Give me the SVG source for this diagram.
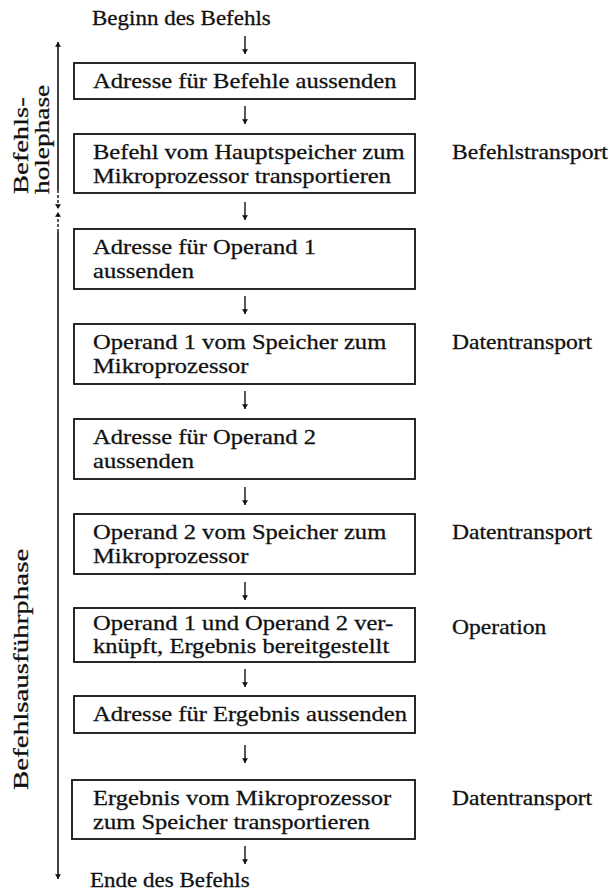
<svg xmlns="http://www.w3.org/2000/svg" width="610" height="894" viewBox="0 0 610 894">
  <style>
    .box { fill: #fff; stroke: #111; stroke-width: 1.8; }
    .t { font-family: "Liberation Serif", "Times New Roman", serif; font-size: 20px; fill: #111; stroke: #111; stroke-width: 0.28; }
    .bt { font-size: 21px; }
    .lbl { font-size: 21px; }
    .flow { stroke: #111; stroke-width: 1.4; fill: none; }
    .phase { stroke: #111; stroke-width: 1.6; fill: none; }
    .dash { stroke: #111; stroke-width: 1.4; fill: none; stroke-dasharray: 3 2; }
  </style>
  <defs>
    <marker id="ah" viewBox="0 0 8 10" refX="8" refY="5" markerWidth="5" markerHeight="6" markerUnits="userSpaceOnUse" orient="auto">
      <path d="M0,0 L8,5 L0,10 Z" fill="#111"/>
    </marker>
  </defs>
  <rect width="610" height="894" fill="#fff"/>

  <!-- start / end labels -->
  <g id="start" transform="translate(92,0) scale(1.15,1) translate(-92,0)">
    <text class="t" x="92" y="25">Beginn des Befehls</text>
  </g>
  <g id="end" transform="translate(90,0) scale(1.15,1) translate(-90,0)">
    <text class="t" x="90" y="887">Ende des Befehls</text>
  </g>

  <!-- process steps -->
  <g id="step1">
    <rect class="box" x="74" y="63" width="341" height="36"/>
    <g transform="translate(93,0) scale(1.17,1) translate(-93,0)">
      <text class="t bt" x="93" y="88">Adresse für Befehle aussenden</text>
    </g>
  </g>
  <g id="step2">
    <rect class="box" x="74" y="134" width="341" height="59"/>
    <g transform="translate(93,0) scale(1.17,1) translate(-93,0)">
      <text class="t bt" x="93" y="159">Befehl vom Hauptspeicher zum</text>
      <text class="t bt" x="93" y="183">Mikroprozessor transportieren</text>
    </g>
  </g>
  <g id="step3">
    <rect class="box" x="74" y="229" width="341" height="60"/>
    <g transform="translate(93,0) scale(1.17,1) translate(-93,0)">
      <text class="t bt" x="93" y="254">Adresse für Operand 1</text>
      <text class="t bt" x="93" y="278">aussenden</text>
    </g>
  </g>
  <g id="step4">
    <rect class="box" x="74" y="324" width="341" height="60"/>
    <g transform="translate(93,0) scale(1.17,1) translate(-93,0)">
      <text class="t bt" x="93" y="349">Operand 1 vom Speicher zum</text>
      <text class="t bt" x="93" y="373">Mikroprozessor</text>
    </g>
  </g>
  <g id="step5">
    <rect class="box" x="74" y="419" width="341" height="60"/>
    <g transform="translate(93,0) scale(1.17,1) translate(-93,0)">
      <text class="t bt" x="93" y="444">Adresse für Operand 2</text>
      <text class="t bt" x="93" y="468">aussenden</text>
    </g>
  </g>
  <g id="step6">
    <rect class="box" x="74" y="514" width="341" height="60"/>
    <g transform="translate(93,0) scale(1.17,1) translate(-93,0)">
      <text class="t bt" x="93" y="539">Operand 2 vom Speicher zum</text>
      <text class="t bt" x="93" y="563">Mikroprozessor</text>
    </g>
  </g>
  <g id="step7">
    <rect class="box" x="74" y="608" width="341" height="54"/>
    <g transform="translate(93,0) scale(1.17,1) translate(-93,0)">
      <text class="t bt" x="93" y="630">Operand 1 und Operand 2 ver-</text>
      <text class="t bt" x="93" y="653">knüpft, Ergebnis bereitgestellt</text>
    </g>
  </g>
  <g id="step8">
    <rect class="box" x="74" y="696" width="341" height="37"/>
    <g transform="translate(93,0) scale(1.17,1) translate(-93,0)">
      <text class="t bt" x="93" y="721">Adresse für Ergebnis aussenden</text>
    </g>
  </g>
  <g id="step9">
    <rect class="box" x="72" y="780" width="343" height="59"/>
    <g transform="translate(93,0) scale(1.17,1) translate(-93,0)">
      <text class="t bt" x="93" y="805">Ergebnis vom Mikroprozessor</text>
      <text class="t bt" x="93" y="829">zum Speicher transportieren</text>
    </g>
  </g>

  <!-- transfer type notes -->
  <g id="notes" transform="translate(452,0) scale(1.18,1) translate(-452,0)">
    <text class="t" x="452" y="159">Befehlstransport</text>
    <text class="t" x="452" y="349">Datentransport</text>
    <text class="t" x="452" y="539">Datentransport</text>
    <text class="t" x="452" y="634">Operation</text>
    <text class="t" x="452" y="805">Datentransport</text>
  </g>

  <!-- phase labels -->
  <g id="phase-fetch">
    <text class="t lbl" transform="translate(28,194) rotate(-90) scale(1.36,1)" x="0" y="0">Befehls-</text>
    <text class="t lbl" transform="translate(49,194) rotate(-90) scale(1.3,1)" x="0" y="0">holephase</text>
  </g>
  <g id="phase-exec">
    <text class="t lbl" transform="translate(28,790) rotate(-90) scale(1.38,1)" x="0" y="0">Befehlsausführphase</text>
  </g>

  <!-- connectors -->
  <g id="connectors">
    <line class="flow" x1="245" y1="36" x2="245" y2="54" marker-end="url(#ah)"/>
    <line class="flow" x1="245" y1="106" x2="245" y2="124" marker-end="url(#ah)"/>
    <line class="flow" x1="245" y1="202" x2="245" y2="220" marker-end="url(#ah)"/>
    <line class="flow" x1="245" y1="296" x2="245" y2="314" marker-end="url(#ah)"/>
    <line class="flow" x1="245" y1="391" x2="245" y2="409" marker-end="url(#ah)"/>
    <line class="flow" x1="245" y1="487" x2="245" y2="505" marker-end="url(#ah)"/>
    <line class="flow" x1="245" y1="582" x2="245" y2="600" marker-end="url(#ah)"/>
    <line class="flow" x1="245" y1="669" x2="245" y2="687" marker-end="url(#ah)"/>
    <line class="flow" x1="245" y1="745" x2="245" y2="763" marker-end="url(#ah)"/>
    <line class="flow" x1="245" y1="846" x2="245" y2="864" marker-end="url(#ah)"/>

    <!-- phase extent: instruction fetch -->
    <line class="phase" x1="58" y1="190" x2="58" y2="42" marker-end="url(#ah)"/>
    <line class="dash" x1="58" y1="190" x2="58" y2="209" marker-end="url(#ah)"/>
    <!-- phase extent: instruction execution -->
    <line class="dash" x1="58" y1="232" x2="58" y2="212" marker-end="url(#ah)"/>
    <line class="phase" x1="58" y1="232" x2="58" y2="879" marker-end="url(#ah)"/>
  </g>
</svg>
